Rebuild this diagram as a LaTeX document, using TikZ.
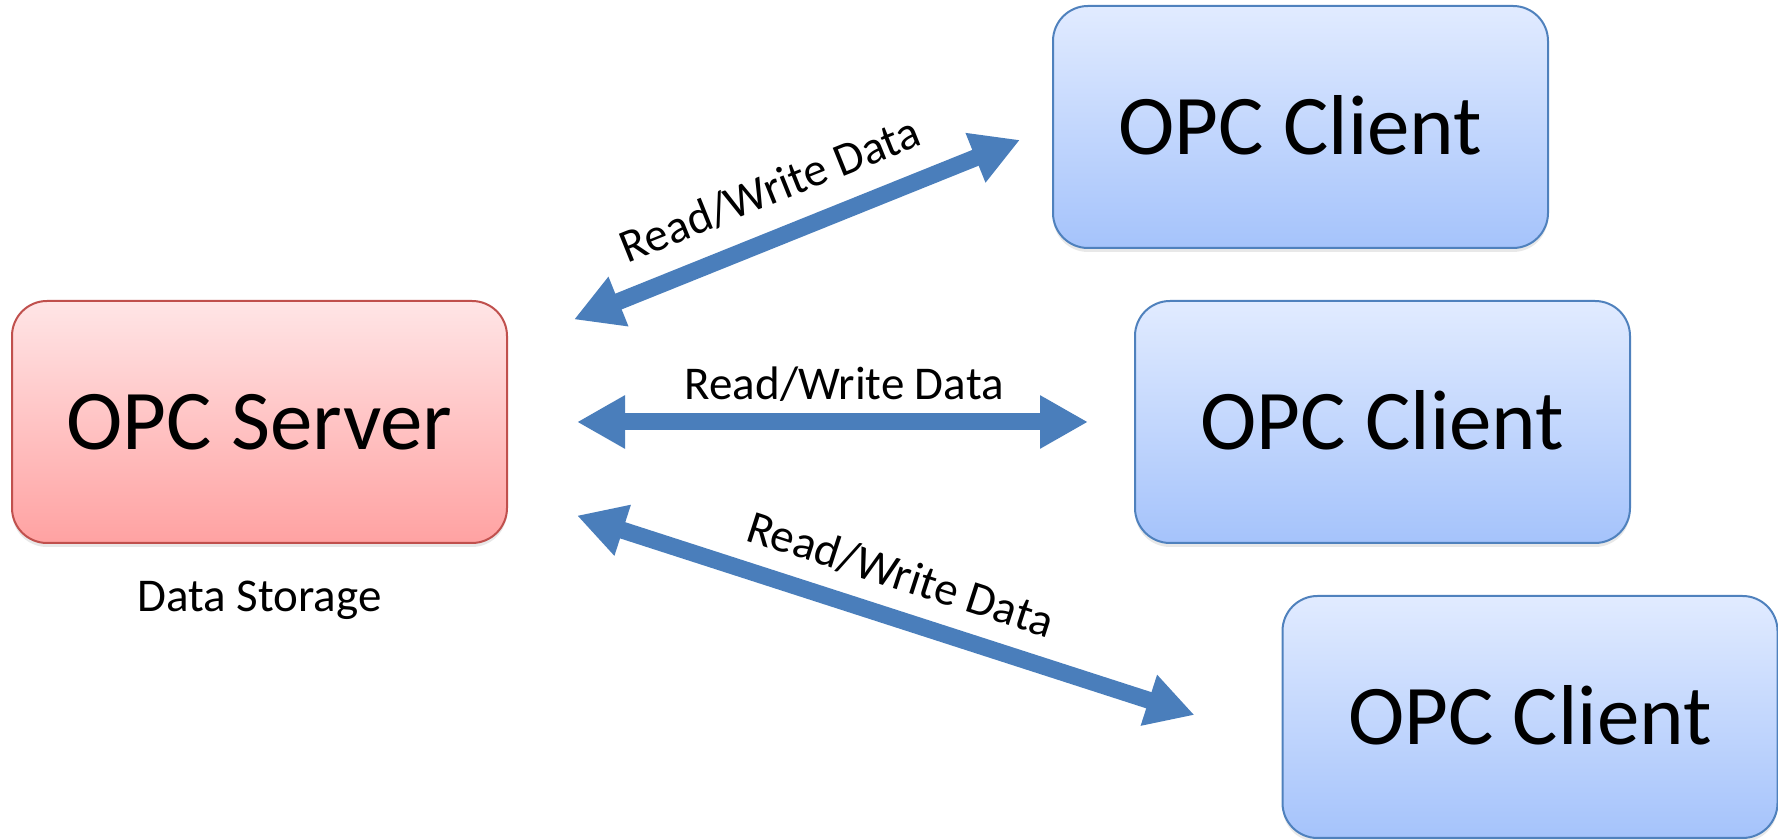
\documentclass[tikz,border=0pt]{standalone}
\usepackage{fontspec}
\setmainfont{Carlito}
\usetikzlibrary{arrows.meta,shadows,calc}

\definecolor{srvtop}{HTML}{FFE5E6}
\definecolor{srvbot}{HTML}{FFA2A2}
\definecolor{srvline}{HTML}{C0504D}
\definecolor{clitop}{HTML}{E1EBFF}
\definecolor{clibot}{HTML}{A5C3FB}
\definecolor{cliline}{HTML}{4F81BD}
\definecolor{linkblue}{HTML}{4A7EBB}

\begin{document}
\begin{tikzpicture}[x=1pt,y=1pt,
  opcbox/.style={rounded corners=35pt, minimum width=495pt, minimum height=242pt,
    line width=2pt, inner sep=0pt, text height=55pt, text depth=0pt,
    font=\fontsize{85}{100}\selectfont,
    drop shadow={opacity=0.18, shadow xshift=0pt, shadow yshift=-4pt}},
  serverbox/.style={opcbox, draw=srvline, top color=srvtop, bottom color=srvbot},
  clientbox/.style={opcbox, draw=cliline, top color=clitop, bottom color=clibot},
  rwlink/.style={draw=linkblue, line width=17pt,
    {Triangle[length=48pt,width=50pt]}-{Triangle[length=48pt,width=50pt]}},
  rwlabel/.style={font=\fontsize{47}{56}\selectfont, anchor=base, sloped,
    inner sep=0pt, text=black}
]
\useasboundingbox (0,0) rectangle (1778,840);

% server and clients
\node[serverbox] (server)  at (259.5,418)  {OPC Server};
\node[clientbox] (client1) at (1300.5,713) {OPC Client};
\node[clientbox] (client2) at (1382.5,418) {OPC Client};
\node[clientbox] (client3) at (1530,123)   {OPC Client};

\node[font=\fontsize{47}{56}\selectfont, anchor=base, inner sep=0pt]
  (storage) at ($(server.south)+(0,-68)$) {Data Storage};

% read/write links
\draw[rwlink, shorten <=71.1pt, shorten >=34.5pt]
  (server.17.4) -- (client1.west)
  node[rwlabel, pos=0.514, yshift=32pt] (lab1) {Read/Write Data};
\draw[rwlink, shorten <=69pt, shorten >=46pt]
  (server.east) -- (client2.west)
  node[rwlabel, pos=0.537, yshift=22pt] (lab2) {Read/Write Data};
\draw[rwlink, shorten <=72.5pt, shorten >=91.4pt]
  (server.-16.6) -- (client3.186.4)
  node[rwlabel, pos=0.4906, yshift=28pt] (lab3) {Read/Write Data};
\end{tikzpicture}
\end{document}
